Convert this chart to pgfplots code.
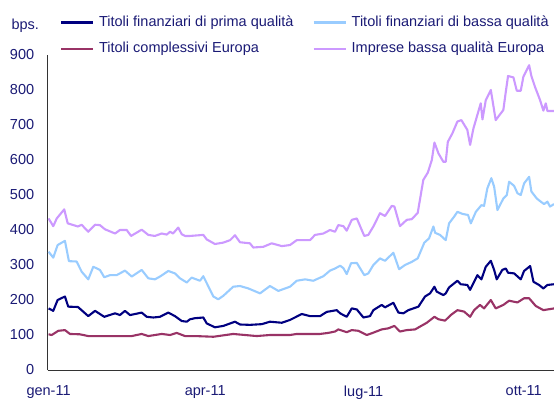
\documentclass[border=0pt]{standalone}
\usepackage{fontspec}
\setmainfont{Liberation Sans}
\usepackage{pgfplots}
\pgfplotsset{compat=1.18}

\definecolor{primaq}{HTML}{000080}
\definecolor{bassaq}{HTML}{99CCFF}
\definecolor{complEU}{HTML}{993366}
\definecolor{impreseEU}{HTML}{CC99FF}
\definecolor{txtblue}{HTML}{1A1A75}

\begin{document}
\begin{tikzpicture}
\path[use as bounding box] (-47.7pt,-35pt) rectangle (506.3pt,370pt);
\begin{axis}[
  at={(0,0)}, anchor=south west,
  scale only axis,
  width=506.3pt, height=315pt,
  xmin=-0.5, xmax=290.4,
  ymin=0, ymax=900,
  axis x line=bottom, axis y line=left,
  axis line style={-, black!80, line width=0.9pt},
  xtick={0,90,181,273},
  xticklabels={gen-11,apr-11,lug-11,ott-11},
  ytick={0,100,...,900},
  major tick length=0pt,
  font=\fontsize{14.5}{17}\selectfont,
  tick label style={text=txtblue},
  /pgf/number format/assume math mode=true,
  yticklabel style={xshift=-10pt},
  xticklabel style={yshift=-12pt},
  clip=true,
  every axis plot/.append style={line width=2.1pt, line join=round},
  legend columns=2,
  legend cell align=left,
  legend image code/.code={\draw[#1] (0pt,0pt) -- (32pt,0pt);},
  legend style={
    at={(0.0243,1.0619)}, anchor=west,
    draw=none, fill=none, inner sep=0pt, outer sep=0pt,
    font=\fontsize{14.5}{17}\selectfont, text=txtblue,
    nodes={inner sep=3pt, text height=10.5pt, text depth=3pt},
    row sep=6.6pt,
    /tikz/column 1/.style={column sep=2pt},
    /tikz/column 2/.style={column sep=16pt},
    /tikz/column 3/.style={column sep=2pt},
  },
]
% Titoli finanziari di prima qualita
\addplot[color=primaq] coordinates {
(0,176) (2.7,169) (5.2,200) (9.4,210) (11.3,181) (16.9,180) (22.8,154) (26.7,169)
(32.0,152) (38.2,162) (41.0,157) (43.9,169) (46.8,157) (53.5,164) (56.4,152) (60.2,150)
(64.0,152) (68.8,164) (72.6,154) (76.5,140) (79.4,138) (81.3,145) (84.1,148) (88.9,150)
(90.9,133) (95.6,122) (100.4,126) (107.1,138) (110.0,130) (115.7,129) (122.5,131) (127.2,138)
(134.0,135) (138.7,143) (145.5,160) (150.2,154) (156.0,154) (159.8,166) (165.6,171) (167.5,162)
(171.3,152) (174.2,176) (177.1,173) (180.9,150) (184.7,154) (186.6,171) (191.4,186) (193.3,179)
(198.1,192) (201.0,164) (203.9,162) (206.7,171) (209.6,176) (212.5,181) (216.3,210) (219.2,219)
(221.7,238) (223.0,224) (226.8,214) (228.2,219) (230.1,236) (234.9,255) (236.8,245) (240.6,243)
(242.2,229) (246.4,271) (248.7,259) (251.2,295) (254.1,312) (256.0,286) (257.5,259) (260.7,286)
(262.7,290) (264.0,278) (267.5,276) (271.3,259) (273.2,283) (276.7,297) (278.6,252) (281.8,243)
(284.3,233) (286.6,243) (290.4,245)
};
\addlegendentry{Titoli finanziari di prima qualità}
% Titoli finanziari di bassa qualita
\addplot[color=bassaq] coordinates {
(0,338) (2.7,321) (5.2,357) (9.4,369) (11.7,311) (16.1,310) (19.0,281) (22.8,259)
(25.7,295) (29.5,286) (32.0,265) (35.3,271) (39.1,271) (43.9,284) (47.8,267) (53.5,286)
(57.3,262) (61.1,259) (64.0,267) (68.8,283) (72.6,276) (75.5,262) (79.4,250) (82.2,264)
(87.0,255) (88.9,268) (90.9,248) (94.7,210) (97.5,202) (100.4,212) (106.1,238) (110.0,240)
(114.8,233) (121.5,219) (127.2,240) (132.0,226) (138.7,238) (142.6,255) (147.4,259) (152.1,255)
(157.9,268) (161.7,284) (164.6,290) (167.5,298) (169.4,291) (171.3,274) (173.8,305) (177.1,306)
(181.4,271) (183.7,276) (186.6,300) (190.4,319) (193.3,312) (198.1,335) (201.4,288) (204.8,300)
(208.7,309) (212.1,319) (215.9,364) (218.6,376) (221.1,410) (222.1,392) (224.9,386) (228.2,371)
(230.1,419) (233.0,438) (234.9,452) (237.8,446) (241.0,443) (242.6,419) (245.5,452) (248.7,471)
(250.2,469) (252.1,519) (254.4,548) (256.0,524) (257.9,457) (261.3,490) (263.3,500) (264.6,538)
(267.5,526) (269.4,505) (271.3,500) (273.2,533) (276.1,552) (277.4,510) (280.5,490) (282.8,481)
(284.7,474) (286.6,481) (288.1,467) (290.4,474)
};
\addlegendentry{Titoli finanziari di bassa qualità}
% Titoli complessivi Europa
\addplot[color=complEU] coordinates {
(0,102) (1.8,100) (5.6,112) (9.4,114) (12.3,103) (18.0,102) (22.8,97) (28.4,97)
(47.8,97) (53.5,103) (57.3,97) (65.0,103) (69.8,100) (73.6,106) (78.4,97) (84.1,97)
(94.7,95) (106.1,103) (119.6,97) (127.2,100) (138.7,100) (142.6,103) (156.0,103) (160.7,106)
(164.6,110) (166.5,116) (171.3,108) (174.2,114) (178.0,112) (182.8,100) (185.7,105) (191.4,116)
(195.2,119) (198.7,126) (201.9,110) (205.8,114) (210.6,116) (213.4,124) (217.3,135) (221.7,152)
(224.0,145) (227.8,141) (231.1,157) (234.9,171) (238.7,167) (242.2,152) (244.5,171) (247.9,186)
(250.2,176) (254.1,200) (256.9,176) (261.3,186) (264.6,198) (269.4,193) (273.2,205) (276.1,205)
(279.9,183) (284.3,171) (290.4,176)
};
\addlegendentry{Titoli complessivi Europa}
% Imprese bassa qualita Europa
\addplot[color=impreseEU] coordinates {
(0,433) (2.7,411) (4.7,433) (9.0,459) (11.0,419) (16.9,410) (19.0,415) (22.8,395)
(26.7,415) (29.5,414) (32.4,402) (38.2,390) (41.0,400) (44.9,400) (47.4,383) (53.5,401)
(57.3,386) (61.1,383) (65.0,390) (67.9,387) (69.8,395) (71.5,390) (74.5,407) (76.5,388)
(78.4,383) (81.3,383) (88.9,386) (90.9,373) (95.6,360) (100.4,364) (104.3,371) (107.1,385)
(110.0,365) (115.7,362) (117.6,350) (123.4,352) (128.2,362) (134.0,354) (138.7,357) (142.6,371)
(146.4,371) (150.2,371) (153.1,386) (157.9,390) (161.7,400) (164.6,395) (166.5,414) (169.4,411)
(171.3,398) (174.2,429) (177.1,433) (181.4,383) (183.7,386) (186.6,410) (190.4,448) (193.3,440)
(197.2,469) (198.7,467) (201.9,411) (205.8,429) (208.7,431) (212.1,449) (215.3,543) (217.9,564)
(220.2,600) (221.7,650) (224.0,619) (226.8,595) (228.2,595) (229.4,652) (232.0,676) (234.9,710)
(237.2,714) (240.6,686) (242.2,643) (244.1,690) (248.3,762) (249.3,716) (251.2,771) (254.1,800)
(256.9,714) (261.3,743) (262.7,795) (264.0,840) (267.1,836) (269.0,798) (271.3,798) (272.8,838)
(276.1,871) (277.4,840) (279.4,810) (282.4,771) (284.3,741) (285.7,762) (286.6,740) (290.4,740)
};
\addlegendentry{Imprese bassa qualità Europa}
\end{axis}
\node[text=txtblue, font=\fontsize{14.5}{17}\selectfont] at (-22.4pt,344pt) {bps.};
\end{tikzpicture}
\end{document}
